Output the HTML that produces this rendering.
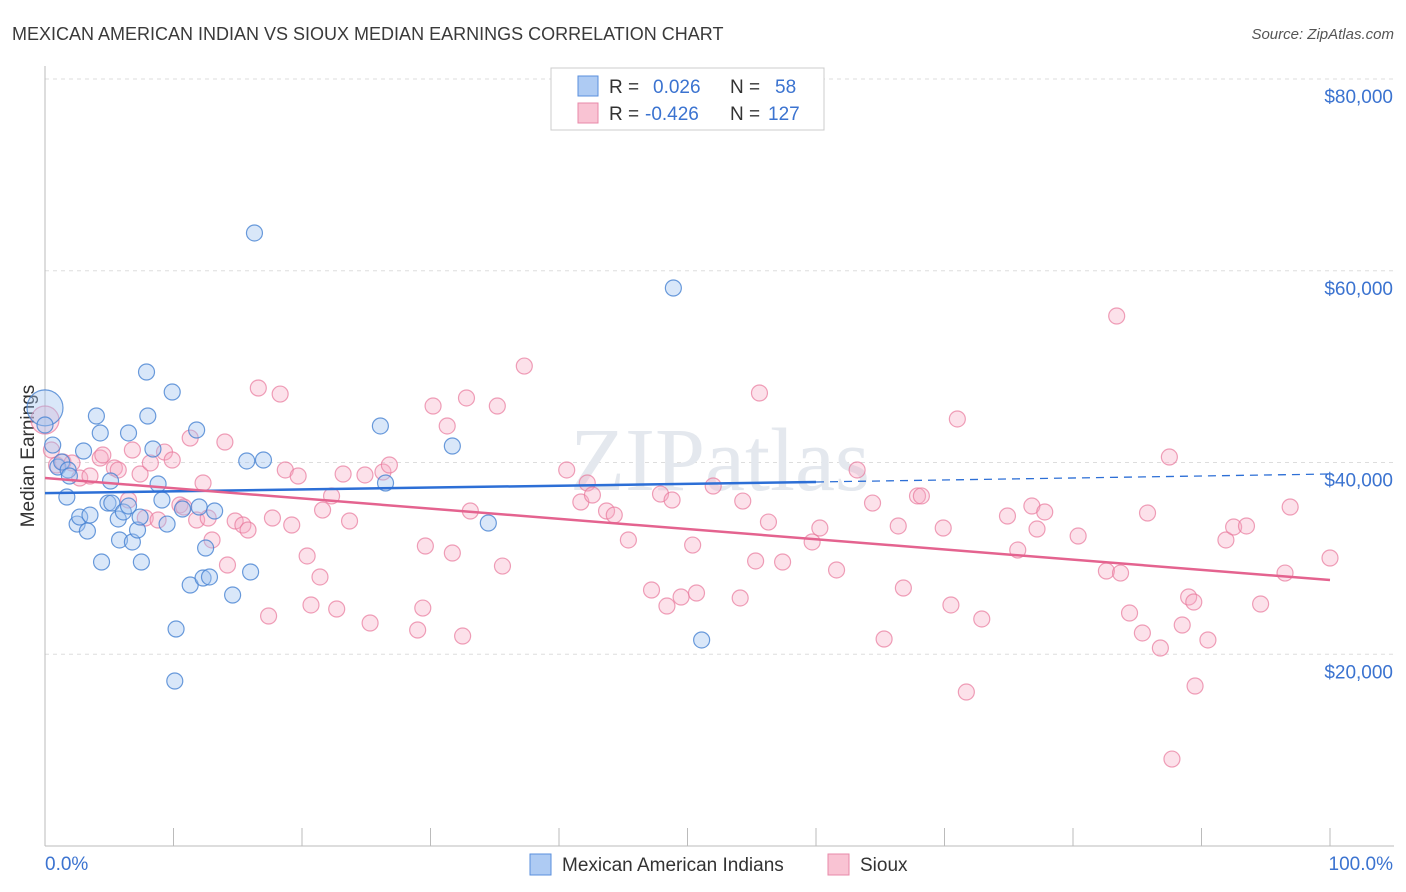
<!DOCTYPE html>
<html><head><meta charset="utf-8">
<style>
body{margin:0;background:#fff;font-family:"Liberation Sans",sans-serif;}
#wrap{position:relative;width:1406px;height:892px;overflow:hidden;}
</style></head>
<body>
<div id="wrap">
<svg id="chart" width="1406" height="892"></svg>
</div>
<script>
const blueX=[0,0,0.6,1.0,1.3,1.8,1.7,1.9,2.5,2.7,3.3,3.0,3.5,4.0,4.3,4.4,4.9,5.1,5.2,5.7,5.8,6.1,6.5,6.5,6.8,7.2,7.4,7.5,7.9,8.0,8.4,8.8,9.1,9.5,9.9,10.2,10.1,10.7,11.3,11.8,12.0,12.3,12.5,12.8,13.2,14.6,15.7,16.0,16.3,17.0,26.1,26.5,31.7,34.5,48.9,51.1];
const blueY=[45700,43910,41820,39530,40050,39220,36400,38590,33580,34310,32850,41200,34520,44850,43080,29620,35770,38070,35770,34110,31920,34840,43080,35460,31710,32960,34310,29620,49440,44850,41410,37760,36090,33580,47350,22630,17210,35150,27220,43390,35360,27950,31080,28060,34940,26180,40160,28580,63940,40260,43810,37860,41720,33690,58200,21490];
const pinkX=[0,0.5,0.9,1.4,2.1,2.7,3.5,4.3,4.5,5.4,5.7,6.5,6.8,7.4,7.8,8.2,8.8,9.3,9.9,10.5,10.8,11.3,11.8,12.3,12.7,13.0,14.0,14.2,14.8,15.4,15.8,16.6,17.4,17.7,18.3,18.7,19.2,19.7,20.4,20.7,21.4,21.6,22.3,22.7,23.2,23.7,24.9,25.3,26.3,26.8,29.6,29.0,29.4,30.2,31.3,31.7,32.5,32.8,33.1,35.2,35.6,37.3,40.6,41.7,42.2,42.6,43.7,44.3,45.4,47.2,47.9,48.4,48.8,49.5,50.4,50.7,52.0,54.1,54.3,55.3,55.6,56.3,57.4,59.7,60.3,61.6,63.2,64.4,65.3,66.4,66.8,67.9,68.2,69.9,70.5,71.0,71.7,72.9,74.9,75.7,76.8,77.2,77.8,80.4,82.6,83.4,83.7,84.4,85.4,85.8,86.8,87.5,87.7,88.5,89.0,89.4,89.5,90.5,91.9,92.5,93.5,94.6,96.5,96.9,100];
const pinkY=[44430,41300,39740,40050,39950,38380,38590,40470,40780,39430,39220,36090,41300,38800,34210,39950,34000,41090,40260,35570,35360,42550,34000,37860,34210,31920,42140,29310,33900,33480,32960,47770,23990,34210,47140,39220,33480,38590,30250,25140,28060,35040,36510,24720,38800,33900,38700,23260,39010,39740,31290,22530,24820,45890,43810,30560,21900,46730,34940,45890,29200,50060,39220,35880,37860,36610,34940,34520,31920,26700,36710,25030,36090,25970,31390,26390,37550,25870,35980,29730,47250,33790,29620,31710,33170,28790,39220,35770,21590,33380,26910,36510,36510,33170,25140,44540,16060,23680,34420,30870,35460,33060,34840,32330,28680,55280,28470,24300,22220,34730,20650,40570,9070,23050,25970,25450,16690,21490,31920,33270,33380,25240,28470,35360,30040];
const blueTrend=[36800,37970,38800]; // at 0%, 60%, 100%
const pinkTrend=[38380,27740]; // at 0%, 100%
const yTicks=[20000,40000,60000,80000];
const yTickLabels=["$20,000","$40,000","$60,000","$80,000"];

const svg=document.getElementById('chart');
const NS='http://www.w3.org/2000/svg';
const X0=45,X1=1330,Y0=846,PX=191.75/20000;
const xs=v=>X0+(X1-X0)*v/100;
const ys=v=>Y0-v*PX;
function mk(t,a){const e=document.createElementNS(NS,t);for(const k in a)e.setAttribute(k,a[k]);svg.appendChild(e);return e;}

let t=mk('text',{x:12,y:40,'font-size':18,fill:'#3a3a3a'});t.textContent='MEXICAN AMERICAN INDIAN VS SIOUX MEDIAN EARNINGS CORRELATION CHART';


t=mk('text',{x:1394,y:39,'font-size':15,fill:'#555','text-anchor':'end','font-style':'italic'});t.textContent='Source: ZipAtlas.com';



yTicks.forEach((v,i)=>{
 const g=mk('line',{x1:X0,x2:1394,y1:ys(v),y2:ys(v),stroke:'#ddd','stroke-dasharray':'4,4'});
 
 
 const l=mk('text',{x:1393,y:ys(v)+24,'font-size':19,fill:'#3b73d0','text-anchor':'end'});l.textContent=yTickLabels[i];
 
 
});
let a=mk('line',{x1:X0,x2:X0,y1:66,y2:Y0,stroke:'#bbb'});


a=mk('line',{x1:X0,x2:1394,y1:Y0,y2:Y0,stroke:'#bbb'});


for(let i=0;i<=10;i++){const tk=mk('line',{x1:xs(i*10),x2:xs(i*10),y1:Y0-18,y2:Y0,stroke:'#bbb'});
 
 }
t=mk('text',{x:45,y:870,'font-size':19,fill:'#3b73d0'});t.textContent='0.0%';


t=mk('text',{x:1393,y:870,'font-size':19,fill:'#3b73d0','text-anchor':'end'});t.textContent='100.0%';


t=mk('text',{x:34,y:456,'font-size':19,fill:'#333','text-anchor':'middle',transform:'rotate(-90 34 456)'});t.textContent='Median Earnings';


t=mk('text',{x:720,y:490,'font-size':90,fill:'#e4e8ee','text-anchor':'middle','font-family':'Liberation Serif'});t.textContent='ZIPatlas';



pinkX.forEach((x,i)=>{const c=mk('circle',{cx:xs(x),cy:ys(pinkY[i]),r:i==0?14:8,fill:'rgba(246,170,195,0.35)',stroke:'rgba(232,120,155,0.7)','stroke-width':1.2});
 
 });
blueX.forEach((x,i)=>{const c=mk('circle',{cx:xs(x),cy:ys(blueY[i]),r:i==0?18:8,fill:'rgba(160,195,240,0.4)',stroke:'rgba(70,130,210,0.8)','stroke-width':1.2});
 
 });

let ln=mk('line',{x1:xs(0),y1:ys(blueTrend[0]),x2:xs(60),y2:ys(blueTrend[1]),stroke:'#2d6fd6','stroke-width':2.5});


ln=mk('line',{x1:xs(60),y1:ys(blueTrend[1]),x2:xs(100),y2:ys(blueTrend[2]),stroke:'#2d6fd6','stroke-width':1.3,'stroke-dasharray':'8,6'});


ln=mk('line',{x1:xs(0),y1:ys(pinkTrend[0]),x2:xs(100),y2:ys(pinkTrend[1]),stroke:'#e4638f','stroke-width':2.5});



// top legend
let r=mk('rect',{x:551,y:68,width:273,height:62,fill:'#fff',stroke:'#ccc'});


[[0,'#aecbf3','#5a8fdc','0.026','58'],[1,'#f9c3d3','#e88aa8','-0.426','127']].forEach(([i,f,s,rv,n])=>{
 const y=86+i*27;
 const b=mk('rect',{x:578,y:y-10,width:20,height:20,fill:f,stroke:s});
 
 
 const tx=mk('text',{x:609,y:y+7,'font-size':19,fill:'#333'});
 tx.innerHTML='R = <tspan fill="#3b73d0" x="'+(i?645:653)+'">'+rv+'</tspan><tspan x="730" fill="#333">N = </tspan><tspan fill="#3b73d0" x="'+(i?768:775)+'">'+n+'</tspan>';
 
 
});
// bottom legend
[[530,'#aecbf3','#5a8fdc','Mexican American Indians'],[828,'#f9c3d3','#e88aa8','Sioux']].forEach(([x,f,s,l])=>{
 const b=mk('rect',{x:x,y:854,width:21,height:21,fill:f,stroke:s});
 
 
 const tx=mk('text',{x:x+32,y:871,'font-size':19,fill:'#333'});tx.textContent=l;
 
 
});
</script>
</body></html>
